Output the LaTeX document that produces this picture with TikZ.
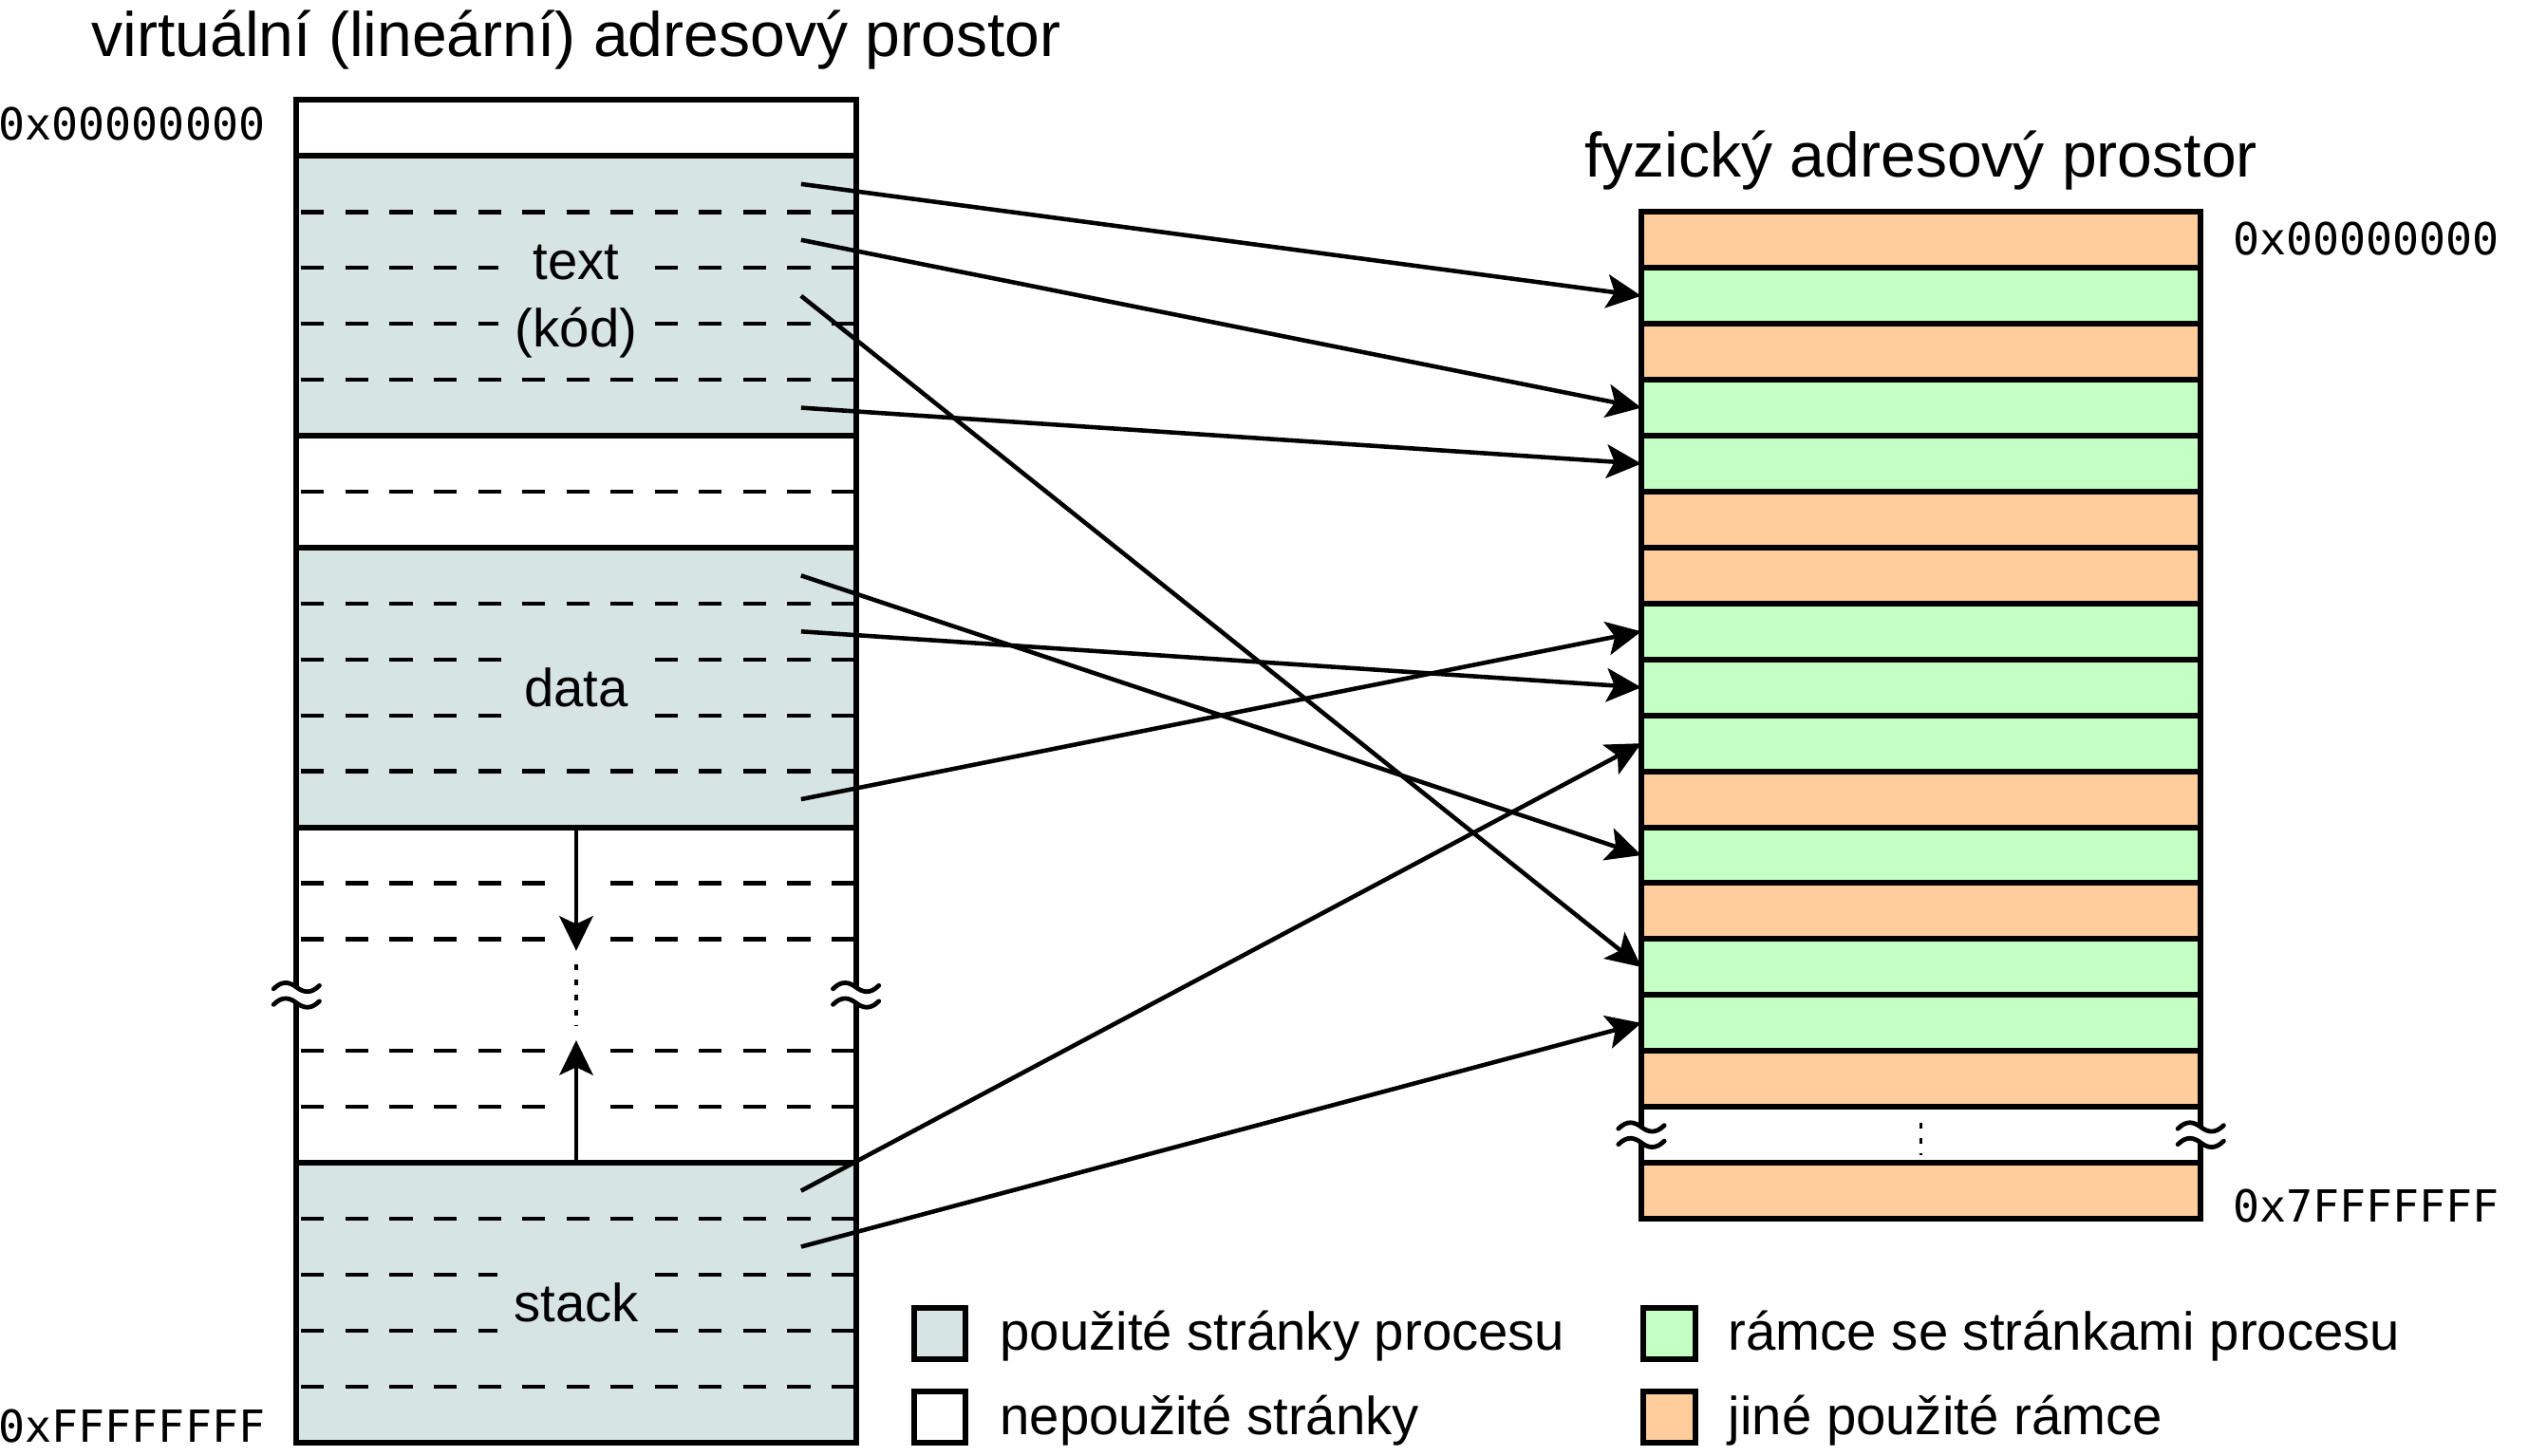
\documentclass[tikz,border=0pt]{standalone}
\usepackage{fontspec}
\setmainfont{Liberation Sans}
\newfontfamily\hexfont{DejaVu Sans Mono}
\usetikzlibrary{arrows.meta}

\definecolor{pagegray}{HTML}{D7E4E4}
\definecolor{framegreen}{HTML}{C4FFC4}
\definecolor{frameorange}{HTML}{FFCD9C}

\begin{document}
\begin{tikzpicture}[
		border/.style={line width=2.9pt},
		pageline/.style={line width=2.1pt, dash pattern=on 0.41cm off 0.38cm, dash phase=0.705cm},
		map/.style={line width=2.2pt, -{Stealth[length=0.62cm,width=0.6cm,inset=0.14cm]}},
		dots/.style={line width=1.8pt, dash pattern=on 0.1cm off 0.17cm},
		wave/.style={line width=2.3pt, line cap=round},
		ttl/.style={font=\fontsize{31.9}{38}\selectfont},
		lbl/.style={fill=pagegray, inner xsep=0.3cm, inner ysep=0.2cm, align=center, font=\fontsize{27.2}{34}\selectfont},
		legtext/.style={anchor=west, inner sep=0pt, font=\fontsize{27.2}{34}\selectfont},
		legbox/.style={draw, line width=2.9pt, minimum size=0.92cm, inner sep=0pt},
		hex/.style={anchor=west, inner sep=0pt, font=\hexfont\fontsize{22.5}{27}\selectfont}
	]
		\useasboundingbox (-5.3,1.79) rectangle (39.89,-24.23);
		
		% Virtual address space
		\node[ttl] (vtitle) at (5,1.08) {virtuální (lineární) adresový prostor};
		\fill[pagegray] (0,-1) rectangle (10,-6); %text
		\fill[pagegray] (0,-8) rectangle (10,-13); %data
		\fill[pagegray] (0,-19) rectangle (10,-24); %stack
		
		\foreach \y in {2,3,4,5,7,9,10,11,12,20,21,22,23}
			\draw[pageline] (0,-\y) -- (10,-\y);
		\foreach \y in {14,15,17,18} {
			\draw[pageline] (0,-\y) -- (4.45,-\y);
			\draw[pageline, dash phase=0cm] (5.615,-\y) -- (10,-\y);
		}
		\foreach \y in {1,6,8,13,19}
			\draw[border] (0,-\y) -- (10,-\y);
		\draw[border] (0,0) rectangle (10,-24);
		
		\node[lbl] (text) at (5,-3.6) {text\\(kód)};
		\node[lbl, minimum height=1.15cm] (data) at (5,-10.5) {data};
		\node[lbl, minimum height=1.15cm] (stack) at (5,-21.5) {stack};
		
		%Heap and stack growth
		\coordinate (heapend) at (5,-15.21);
		\coordinate (stackend) at (5,-16.81);
		\draw[map] (data.south |- 5,-13) -- (heapend);
		\draw[map] (stack.north |- 5,-19) -- (stackend);
		\draw[dots] (5,-15.45) -- (5,-16.55);
		
		\node[hex] (vlow) at (-5.33,-0.43) {0x00000000};
		\node[hex] (vhigh) at (-5.33,-23.71) {0xFFFFFFFF};
		
		% Physical address space
		\node[ttl] (ptitle) at (29.04,-1.08) {fyzický adresový prostor};
		\foreach \c [count=\j from 0] in {frameorange,framegreen,frameorange,framegreen,framegreen,frameorange,frameorange,framegreen,framegreen,framegreen,frameorange,framegreen,frameorange,framegreen,framegreen,frameorange,white,frameorange}
			\fill[\c] (24.04,-2-\j) rectangle (34.04,-3-\j);
		\foreach \j in {1,...,17}
			\draw[border] (24.04,-2-\j) -- (34.04,-2-\j);
		\draw[border] (24.04,-2) rectangle (34.04,-20);
		\draw[dots] (29.04,-18.28) -- (29.04,-18.86);
		
		\node[hex] (plow) at (34.61,-2.48) {0x00000000};
		\node[hex] (phigh) at (34.61,-19.77) {0x7FFFFFFF};
		
		%Breaks
		\foreach \bx/\by in {0/-16, 10/-16, 24.04/-18.5, 34.04/-18.5} {
			\fill[white] (\bx-0.08,\by-0.14) rectangle (\bx+0.08,\by+0.14);
			\foreach \dy in {0.14,-0.14}
				\draw[wave] (\bx-0.41,\by+\dy-0.03) .. controls (\bx-0.25,\by+\dy+0.13) and (\bx-0.12,\by+\dy+0.09) .. (\bx,\by+\dy)
					.. controls (\bx+0.12,\by+\dy-0.09) and (\bx+0.25,\by+\dy-0.13) .. (\bx+0.41,\by+\dy+0.03);
		}
		
		%Page to frame mapping
		\foreach \i in {0,...,23}
			\coordinate (v\i) at (9.02,-\i-0.5);
		\foreach \j in {0,...,17}
			\coordinate (f\j) at (24.04,-\j-2.5);
		\foreach \i/\j in {1/1,2/3,3/13,5/4,8/11,9/8,12/7,19/9,20/14}
			\draw[map] (v\i) -- (f\j);
		
		%Legend
		\node[legbox, fill=pagegray] (lused) at (11.5,-22.05) {};
		\node[legbox, fill=white] (lfree) at (11.5,-23.55) {};
		\node[legbox, fill=framegreen] (lproc) at (24.54,-22.05) {};
		\node[legbox, fill=frameorange] (lother) at (24.54,-23.55) {};
		\node[legtext] (tused) at (12.57,-22.1) {použité stránky procesu};
		\node[legtext] (tfree) at (12.57,-23.6) {nepoužité stránky};
		\node[legtext] (tproc) at (25.59,-22.1) {rámce se stránkami procesu};
		\node[legtext] (tother) at (25.59,-23.6) {jiné použité rámce};
		
	\end{tikzpicture}
\end{document}
